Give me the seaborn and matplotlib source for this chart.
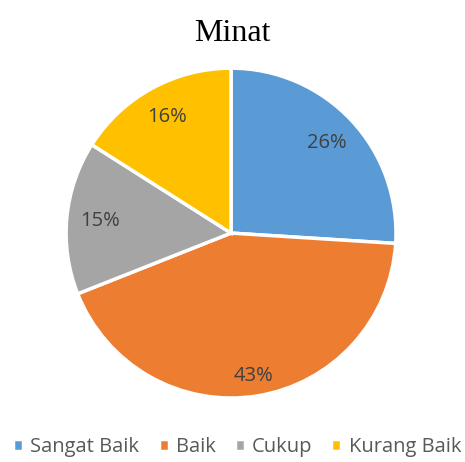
import matplotlib
matplotlib.use("Agg")
import matplotlib.pyplot as plt
import seaborn as sns

labels = ["Sangat Baik", "Baik", "Cukup", "Kurang Baik"]
values = [26, 43, 15, 16]
colors = ["#5B9BD5", "#ED7D31", "#A5A5A5", "#FFC000"]

sns.set_theme(style="white")
plt.rcParams["font.family"] = ["Open Sans", "DejaVu Sans"]

fig = plt.figure(figsize=(4.65, 4.62), dpi=100)
ax = fig.add_axes([0.142, 0.1385, 0.7097, 0.714])

wedges, texts, autotexts = ax.pie(
    values, colors=colors, startangle=90, counterclock=False,
    autopct="%1.0f%%", pctdistance=0.8,
    wedgeprops=dict(edgecolor="white", linewidth=2.5),
    textprops=dict(color="#404040", fontsize=14.5),
)
ax.set_xlim(-1.0, 1.0)
ax.set_ylim(-1.0, 1.0)
ax.set_aspect("equal")
# Excel puts the big slice label further out
autotexts[1].set_position((autotexts[1].get_position()[0] * 1.1, autotexts[1].get_position()[1] * 1.1))

fig.text(0.5, 0.927, "Minat", ha="center", va="center",
         fontsize=23, family=["Liberation Serif", "DejaVu Serif"], color="black")

fig.legend(wedges, labels, loc="center", bbox_to_anchor=(0.51, 0.032), ncol=4,
           frameon=False, fontsize=14.5, handlelength=0.5, handleheight=0.5,
           handletextpad=0.35, columnspacing=0.95, labelcolor="#595959")

fig.savefig("out.png", dpi=100)
